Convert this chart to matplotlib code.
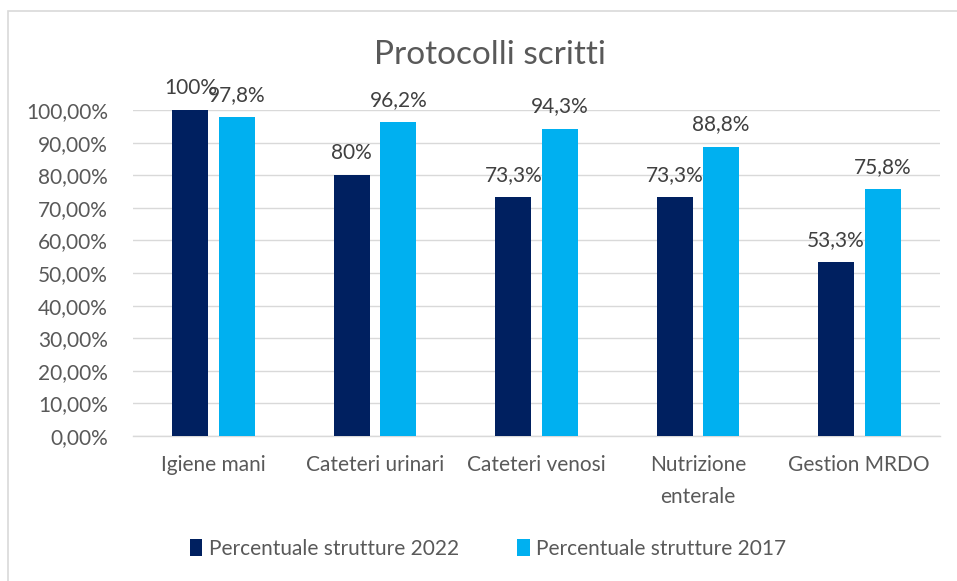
import numpy as np
import matplotlib.pyplot as plt
from matplotlib.patches import Rectangle
from matplotlib.ticker import FuncFormatter

categories = ['Igiene mani', 'Cateteri urinari', 'Cateteri venosi',
              'Nutrizione\nenterale', 'Gestion MRDO']
values_2022 = [1.00, 0.80, 0.733, 0.733, 0.533]
values_2017 = [0.978, 0.962, 0.943, 0.888, 0.758]
labels_2022 = ['100%', '80%', '73,3%', '73,3%', '53,3%']
labels_2017 = ['97,8%', '96,2%', '94,3%', '88,8%', '75,8%']
series_names = ['Percentuale strutture 2022', 'Percentuale strutture 2017']

dark = '#002060'
light = '#00B0F0'
text_col = '#595959'

plt.rcParams['font.family'] = ['Lato', 'DejaVu Sans']
fs = 15

fig = plt.figure(figsize=(9.57, 5.81), dpi=100)
ax = fig.add_axes([133 / 957, 145 / 581, 807 / 957, 326 / 581])

# outer chart frame
fig.patches.append(Rectangle((8 / 957, -0.05), 1.2, (581 - 11) / 581 + 0.05,
                             transform=fig.transFigure, fill=False,
                             edgecolor='#D9D9D9', linewidth=1.2))

x = np.arange(len(categories))
w = 0.223
off = 0.144
b1 = ax.bar(x - off, values_2022, w, color=dark, label=series_names[0], zorder=3)
b2 = ax.bar(x + off, values_2017, w, color=light, label=series_names[1], zorder=3)

for bars, labs in [(b1, labels_2022), (b2, labels_2017)]:
    for rect, lab in zip(bars, labs):
        ax.annotate(lab, (rect.get_x() + rect.get_width() / 2, rect.get_height()),
                    xytext=(0, 16), textcoords='offset points', ha='center',
                    va='center', fontsize=fs, color='#404040', clip_on=False)

ax.set_xlim(-0.5, len(categories) - 0.5)
ax.set_ylim(0, 1.0)
ax.set_yticks(np.arange(0, 1.01, 0.1))
ax.yaxis.set_major_formatter(FuncFormatter(lambda v, p: f'{v * 100:.2f}%'.replace('.', ',')))
ax.set_xticks(x)
ax.set_xticklabels(categories, fontsize=fs, color=text_col, linespacing=1.7)
ax.tick_params(axis='y', labelsize=fs, labelcolor=text_col, length=0, pad=18)
ax.tick_params(axis='x', length=0, pad=14)
ax.grid(axis='y', color='#D9D9D9', linewidth=1, zorder=0)
for s in ['top', 'right', 'left']:
    ax.spines[s].set_visible(False)
ax.spines['bottom'].set_color('#D9D9D9')
ax.spines['bottom'].set_linewidth(1)

fig.text(490 / 957, 1 - 55 / 581, 'Protocolli scritti', ha='center', va='center',
         fontsize=24, color=text_col)

fig.legend(handles=[b1, b2], loc='center', bbox_to_anchor=(488 / 957, 1 - 549 / 581),
           ncol=2, frameon=False, fontsize=fs, handlelength=0.6, handleheight=0.9,
           handletextpad=0.3, columnspacing=2.8, labelcolor=text_col)

fig.savefig('out.png', dpi=100)
